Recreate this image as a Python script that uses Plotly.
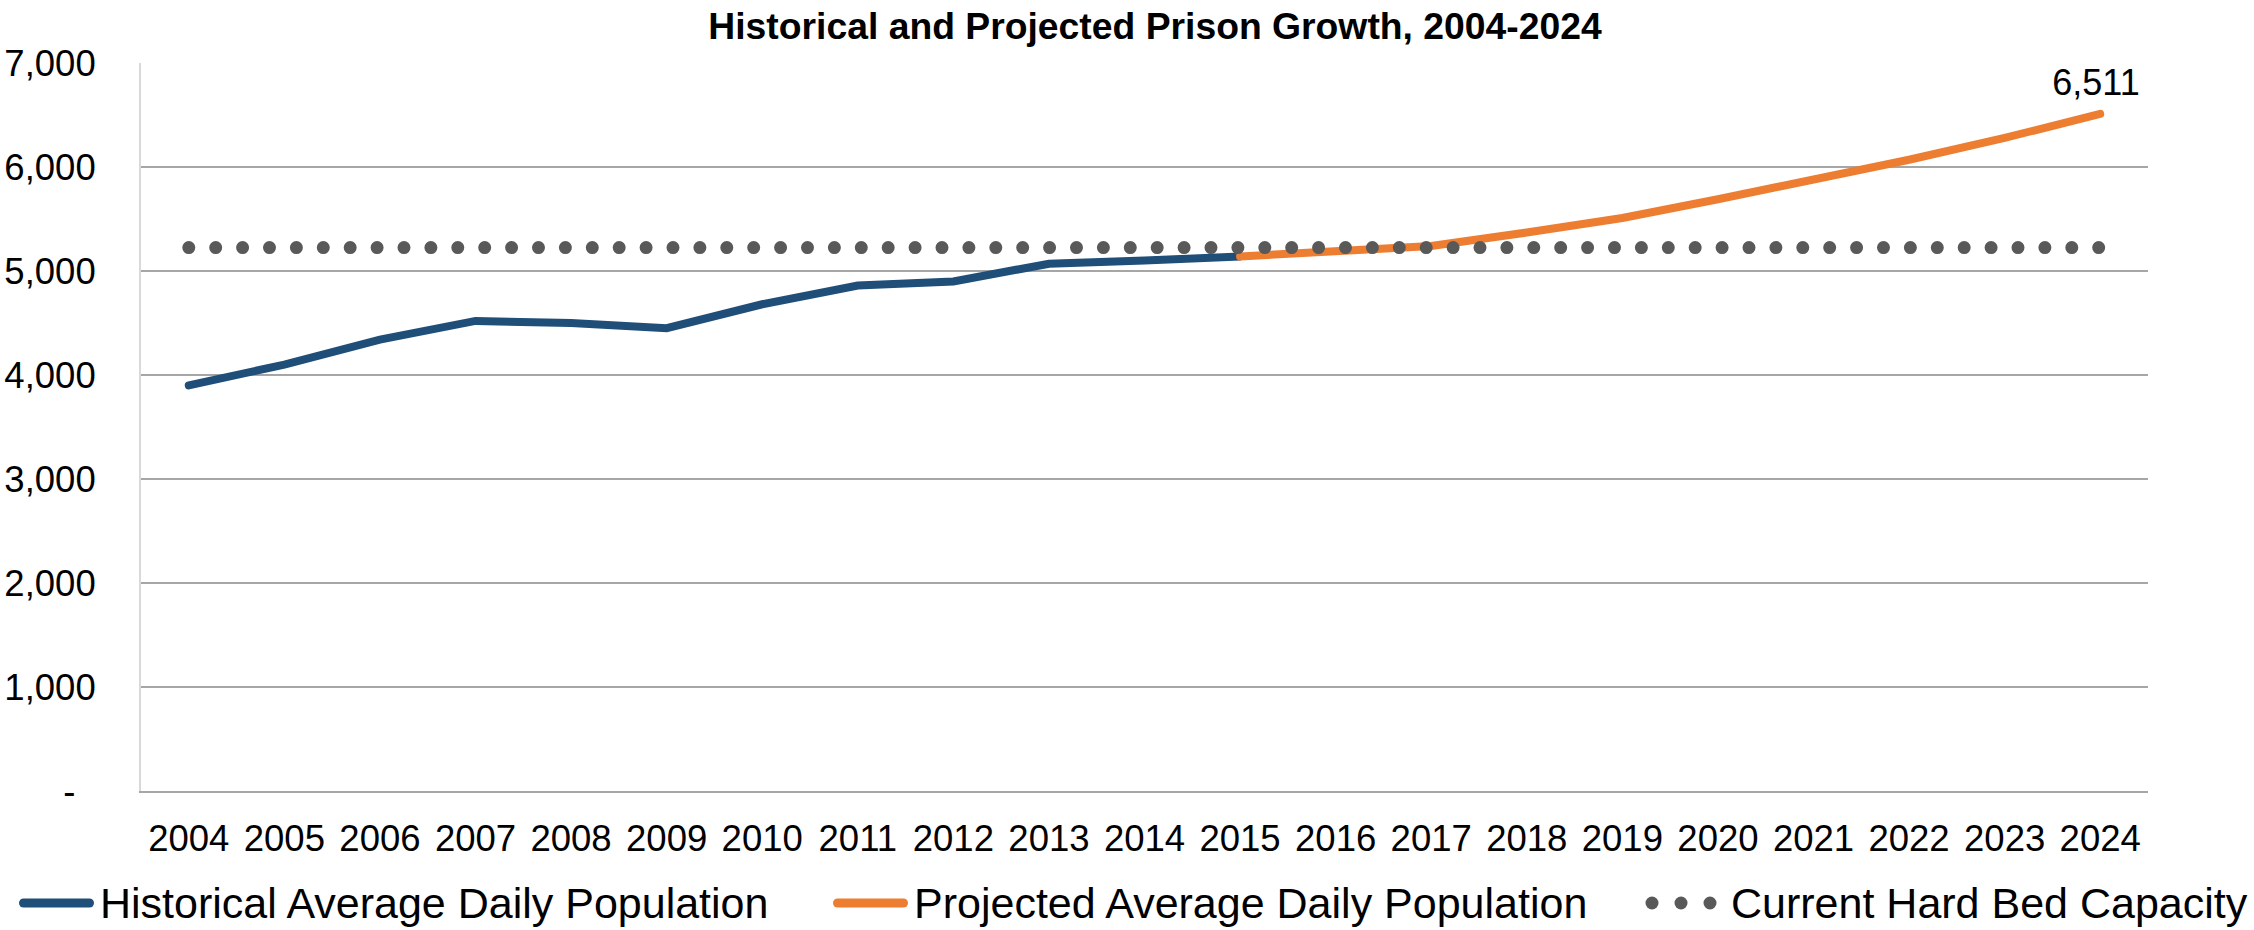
import plotly.graph_objects as go

# ---------------- data ----------------
years = [2004, 2005, 2006, 2007, 2008, 2009, 2010, 2011, 2012, 2013, 2014,
         2015, 2016, 2017, 2018, 2019, 2020, 2021, 2022, 2023, 2024]
year_labels = [str(y) for y in years]

hist_years = [2004, 2005, 2006, 2007, 2008, 2009, 2010, 2011, 2012, 2013, 2014, 2015]
historical = [3900, 4100, 4340, 4520, 4500, 4450, 4680, 4860, 4900, 5070, 5100, 5140]

proj_years = [2015, 2016, 2017, 2018, 2019, 2020, 2021, 2022, 2023, 2024]
projected = [5140, 5190, 5240, 5370, 5510, 5690, 5880, 6070, 6280, 6511]

capacity = [5225, 5225, 5225, 5225, 5225, 5225, 5225, 5225, 5225, 5225, 5225,
            5225, 5225, 5225, 5225, 5225, 5225, 5225, 5225, 5225, 5225]

y_ticks = [0, 1000, 2000, 3000, 4000, 5000, 6000, 7000]
y_tick_labels = ["-\u00a0\u00a0", "1,000", "2,000", "3,000", "4,000", "5,000", "6,000", "7,000"]

series_names = ["Historical Average Daily Population",
                "Projected Average Daily Population",
                "Current Hard Bed Capacity"]
title_text = "Historical and Projected Prison Growth, 2004-2024"
end_label = "6,511"

# ---------------- style ----------------
BLUE = "#1F4E79"
ORANGE = "#ED7D31"
GRAY = "#595959"
GRID = "#a6a6a6"
FONT = "Arial, 'Liberation Sans', sans-serif"

W, H = 2254, 930
L, R, T, B = 141, 106, 63, 139
PW, PH = W - L - R, H - T - B


def px(x):
    return (x - L) / PW


def py(y):
    return (H - B - y) / PH


fig = go.Figure()
fig.add_trace(go.Scatter(x=hist_years, y=historical, mode="lines", name=series_names[0],
                         line=dict(color=BLUE, width=8), showlegend=False))
fig.add_trace(go.Scatter(x=proj_years, y=projected, mode="lines", name=series_names[1],
                         line=dict(color=ORANGE, width=8), showlegend=False))
fig.add_trace(go.Scatter(x=years, y=capacity, mode="lines", name=series_names[2],
                         line=dict(color=GRAY, width=13, dash="0px,26.9px"), showlegend=False))

# end-point data label
fig.add_annotation(x=proj_years[-1], y=projected[-1], xref="x", yref="y", text=end_label,
                   showarrow=False, yshift=32, xshift=-4, width=124, height=46,
                   bgcolor="white", font=dict(family=FONT, size=36, color="black"))

# custom legend
LEG_Y = 903
shapes = [
    dict(type="line", xref="paper", yref="paper", x0=px(23.5), x1=px(89.5),
         y0=py(LEG_Y), y1=py(LEG_Y), line=dict(color=BLUE, width=9)),
    dict(type="line", xref="paper", yref="paper", x0=px(837.5), x1=px(903.5),
         y0=py(LEG_Y), y1=py(LEG_Y), line=dict(color=ORANGE, width=9)),
]
for cx in (1652, 1681, 1710):
    shapes.append(dict(type="circle", xref="paper", yref="paper",
                       x0=px(cx - 6.5), x1=px(cx + 6.5),
                       y0=py(LEG_Y + 6.5), y1=py(LEG_Y - 6.5),
                       fillcolor=GRAY, line=dict(width=0)))
for name, lx in zip(series_names, (99, 913, 1730)):
    fig.add_annotation(x=px(lx), y=py(LEG_Y), xref="paper", yref="paper", text=name,
                       showarrow=False, xanchor="left", yanchor="middle",
                       font=dict(family=FONT, size=43, color="black"), borderpad=0)

fig.update_layout(
    width=W, height=H,
    margin=dict(l=L, r=R, t=T, b=B, pad=0, autoexpand=False),
    paper_bgcolor="white", plot_bgcolor="white",
    font=dict(family=FONT, color="black"),
    title=dict(text="<b>" + title_text + "</b>", x=1155 / W, xanchor="center",
               xref="container", yref="container", y=1 - 26 / H, yanchor="middle",
               font=dict(family=FONT, size=37.3, color="black")),
    shapes=shapes,
    showlegend=False,
    xaxis=dict(range=[2003.5, 2024.5], tickvals=years, ticktext=year_labels, tickangle=0,
               automargin=False,
               showgrid=False, zeroline=False, showline=True, linecolor=GRID, linewidth=1.5,
               ticks="", ticklabelstandoff=14, tickfont=dict(family=FONT, size=36.5, color="black")),
    yaxis=dict(range=[0, 7000], tickvals=y_ticks, ticktext=y_tick_labels, automargin=False,
               showgrid=True, gridcolor=GRID, gridwidth=1.5, zeroline=False,
               showline=True, linecolor="#d9d9d9", linewidth=2,
               ticks="", ticklabelstandoff=36, tickfont=dict(family=FONT, size=36.5, color="black")),
)

post = """
document.body.style.margin='0';
var s=document.createElement('style');
s.innerHTML='.scatterlayer .js-line, .shapelayer path{stroke-linecap:round !important;}';
document.head.appendChild(s);
"""
fig.write_html("out.html", config={"displayModeBar": False}, post_script=post)
